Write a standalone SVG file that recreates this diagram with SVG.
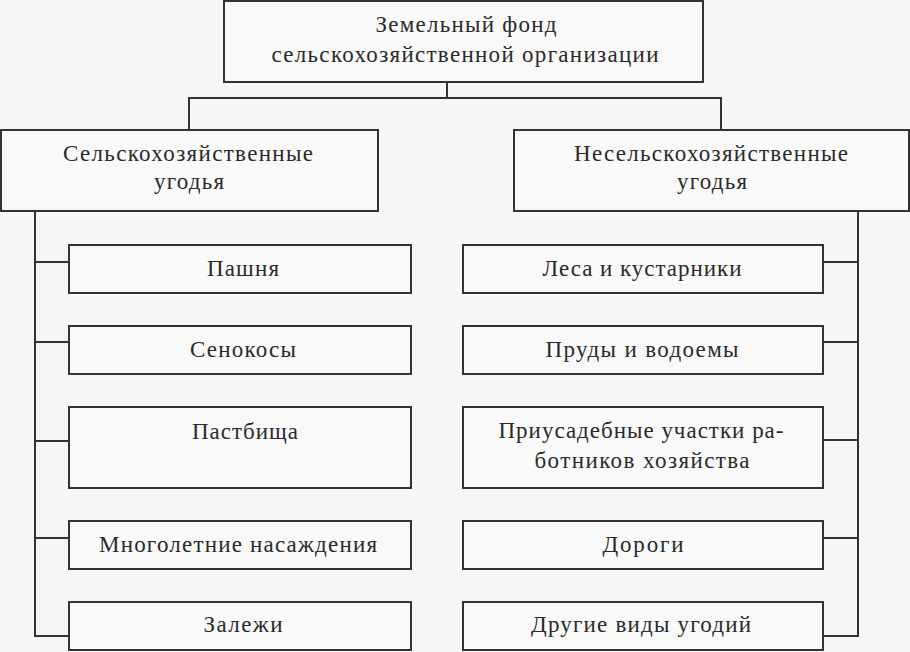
<svg xmlns="http://www.w3.org/2000/svg" width="910" height="652" viewBox="0 0 910 652" font-family="'Liberation Serif', 'DejaVu Serif', serif">
<style>
.bg{fill:#f7f7f7}
.box{fill:#f9f9f9;stroke:#333;stroke-width:2}
.ln{fill:none;stroke:#333;stroke-width:2}
.t{font-family:'Liberation Serif','DejaVu Serif',serif;font-size:23px;fill:#2a2a2a;text-anchor:middle}
</style>
<rect class="bg" x="0" y="0" width="910" height="652"/>
<g id="connectors">
<polyline class="ln" points="447,82 447,98"/>
<polyline class="ln" points="189,130 189,98 721,98 721,130"/>
<polyline class="ln" points="35,211 35,636 69,636"/>
<line class="ln" x1="35" y1="262" x2="69" y2="262"/>
<line class="ln" x1="35" y1="342" x2="69" y2="342"/>
<line class="ln" x1="35" y1="441" x2="69" y2="441"/>
<line class="ln" x1="35" y1="538" x2="69" y2="538"/>
<polyline class="ln" points="858,211 858,636 823,636"/>
<line class="ln" x1="823" y1="262" x2="858" y2="262"/>
<line class="ln" x1="823" y1="342" x2="858" y2="342"/>
<line class="ln" x1="823" y1="440" x2="858" y2="440"/>
<line class="ln" x1="823" y1="538" x2="858" y2="538"/>
</g>
<g id="root">
<rect class="box" x="224" y="1" width="479" height="81"/>
<text class="t" x="466" y="32" textLength="181" lengthAdjust="spacing">Земельный фонд</text>
<text class="t" x="465" y="62" textLength="387" lengthAdjust="spacing">сельскохозяйственной организации</text>
</g>
<g id="agri">
<rect class="box" x="1" y="130" width="377" height="81"/>
<text class="t" x="188" y="161" textLength="250" lengthAdjust="spacing">Сельскохозяйственные</text>
<text class="t" x="189" y="189" textLength="70" lengthAdjust="spacing">угодья</text>
</g>
<g id="nonagri">
<rect class="box" x="514" y="130" width="395" height="81"/>
<text class="t" x="711" y="161" textLength="274" lengthAdjust="spacing">Несельскохозяйственные</text>
<text class="t" x="712" y="189" textLength="70" lengthAdjust="spacing">угодья</text>
</g>
<g id="pashnya">
<rect class="box" x="69" y="245" width="342" height="48"/>
<text class="t" x="243" y="276" textLength="72" lengthAdjust="spacing">Пашня</text>
</g>
<g id="senokosy">
<rect class="box" x="69" y="326" width="342" height="48"/>
<text class="t" x="243" y="357" textLength="106" lengthAdjust="spacing">Сенокосы</text>
</g>
<g id="pastbishcha">
<rect class="box" x="69" y="407" width="342" height="81"/>
<text class="t" x="245" y="439" textLength="106" lengthAdjust="spacing">Пастбища</text>
</g>
<g id="mnogoletnie">
<rect class="box" x="69" y="521" width="342" height="48"/>
<text class="t" x="238" y="552" textLength="278" lengthAdjust="spacing">Многолетние насаждения</text>
</g>
<g id="zalezhi">
<rect class="box" x="69" y="602" width="342" height="48"/>
<text class="t" x="243" y="632" textLength="79" lengthAdjust="spacing">Залежи</text>
</g>
<g id="lesa">
<rect class="box" x="463" y="245" width="360" height="48"/>
<text class="t" x="642" y="276" textLength="199" lengthAdjust="spacing">Леса и кустарники</text>
</g>
<g id="prudy">
<rect class="box" x="463" y="326" width="360" height="48"/>
<text class="t" x="642" y="357" textLength="193" lengthAdjust="spacing">Пруды и водоемы</text>
</g>
<g id="priusadebnye">
<rect class="box" x="463" y="407" width="360" height="81"/>
<text class="t" x="641" y="438" textLength="285" lengthAdjust="spacing">Приусадебные участки ра-</text>
<text class="t" x="642" y="468" textLength="215" lengthAdjust="spacing">ботников хозяйства</text>
</g>
<g id="dorogi">
<rect class="box" x="463" y="521" width="360" height="48"/>
<text class="t" x="643" y="552" textLength="81" lengthAdjust="spacing">Дороги</text>
</g>
<g id="drugie">
<rect class="box" x="463" y="602" width="360" height="48"/>
<text class="t" x="641" y="632" textLength="220" lengthAdjust="spacing">Другие виды угодий</text>
</g>
</svg>
